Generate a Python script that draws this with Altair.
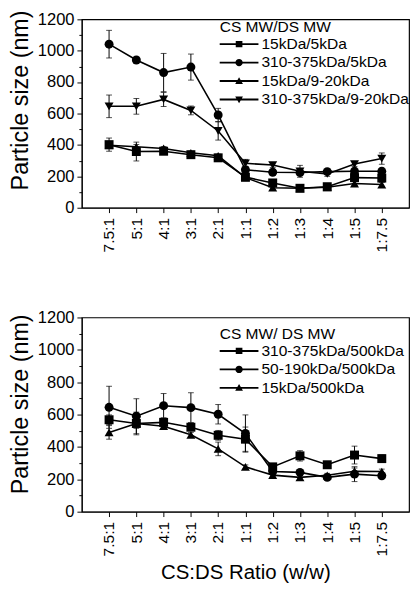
import altair as alt
import pandas as pd

ratios = ["7.5:1", "5:1", "4:1", "3:1", "2:1", "1:1", "1:2", "1:3", "1:4", "1:5", "1:7.5"]

# ---- top panel ----
top_series = ["15kDa/5kDa", "310-375kDa/5kDa", "15kDa/9-20kDa", "310-375kDa/9-20kDa"]
top_sq = [402, 358, 360, 338, 318, 195, 158, 124, 134, 192, 189]
top_sq_err = [42, 60, 15, 12, 10, 15, 20, 10, 10, 25, 25]
top_ci = [1042, 941, 861, 896, 591, 242, 226, 224, 230, 232, 232]
top_ci_err = [88, 10, 122, 83, 42, 20, 15, 15, 15, 20, 20]
top_tu = [398, 388, 378, 350, 331, 192, 128, 124, 130, 154, 148]
top_tu_err = [15, 15, 12, 10, 10, 15, 15, 10, 10, 12, 15]
top_td = [646, 646, 690, 620, 489, 283, 272, 232, 215, 278, 313]
top_td_err = [72, 50, 45, 28, 58, 25, 15, 38, 15, 15, 36]

# ---- bottom panel ----
bot_series = ["310-375kDa/500kDa", "50-190kDa/500kDa", "15kDa/500kDa"]
bot_sq = [568, 545, 552, 522, 472, 448, 277, 345, 290, 350, 328]
bot_sq_err = [30, 70, 25, 20, 30, 75, 20, 32, 12, 55, 22]
bot_ci = [645, 590, 655, 643, 602, 483, 248, 243, 212, 232, 222]
bot_ci_err = [130, 108, 75, 92, 60, 115, 15, 15, 12, 46, 15]
bot_tu = [490, 545, 528, 475, 388, 277, 226, 212, 225, 250, 248]
bot_tu_err = [42, 30, 20, 15, 42, 12, 12, 10, 12, 20, 15]

y_ticks = list(range(0, 1201, 100))

# legend symbols: line with marker (custom paths)
LINE = "M-1,-0.1 H3.2 V0.1 H-1 Z "
P_SQ = LINE + "M0.74,-0.34 H1.46 V0.34 H0.74 Z"
P_CI = LINE + "M0.7,0 A0.4,0.4 0 1,1 1.5,0 A0.4,0.4 0 1,1 0.7,0 Z"
P_TU = LINE + "M1.1,-0.42 L1.52,0.32 L0.68,0.32 Z"
P_TD = LINE + "M1.1,0.42 L0.68,-0.32 L1.52,-0.32 Z"

FONT = "Liberation Sans"


def make_df(series, vals, errs):
    rows = []
    for s, v, e in zip(series, vals, errs):
        for i, (r, vv, ee) in enumerate(zip(ratios, v, e)):
            rows.append({"ratio": r, "idx": i, "series": s, "value": vv,
                         "lo": vv - ee, "hi": vv + ee})
    return pd.DataFrame(rows)


def panel(series, vals, errs, shapes, paths, legend_title, height, xtitle,
          title_y, legend_y):
    df = make_df(series, vals, errs)
    base = alt.Chart(df)
    xaxis = alt.Axis(labelAngle=270, labelFontSize=16, tickSize=5,
                     labelPadding=5, title=xtitle, titleFontSize=21,
                     titleFontWeight="normal", titlePadding=6,
                     domainColor="black", tickColor="black",
                     labelColor="black", titleColor="black")
    x = alt.X("ratio:N", sort=ratios,
              scale=alt.Scale(type="point", padding=1), axis=xaxis)
    yscale = alt.Scale(domain=[0, 1200], nice=False)
    yaxis = alt.Axis(values=y_ticks, format="d",
                     labelExpr="datum.value % 200 == 0 ? datum.label : ''",
                     tickSize={"condition": {"test": "datum.value % 200 == 0", "value": 5}, "value": 3},
                     labelOverlap=False, labelFontSize=17, labelPadding=3,
                     title="Particle size (nm)", titleFontSize=24,
                     titleFontWeight="normal", titlePadding=5,
                     titleY=title_y, grid=False,
                     domainColor="black", tickColor="black",
                     labelColor="black", titleColor="black")
    y = alt.Y("value:Q", scale=yscale, axis=yaxis)
    ylo = alt.Y("lo:Q", scale=yscale, axis=yaxis)
    yhi = alt.Y("hi:Q", scale=yscale, axis=yaxis)
    lines = base.mark_line(color="black", strokeWidth=1.6).encode(
        x=x, y=y, detail="series:N", order="idx:Q")
    rules = base.mark_rule(color="black", strokeWidth=1).encode(
        x=x, y=ylo, y2="hi:Q")
    cap_lo = base.mark_tick(color="black", size=6, thickness=1, orient="horizontal").encode(
        x=x, y=ylo)
    cap_hi = base.mark_tick(color="black", size=6, thickness=1, orient="horizontal").encode(
        x=x, y=yhi)
    pts = base.mark_point(filled=True, size=85, color="black", opacity=1).encode(
        x=x, y=y,
        shape=alt.Shape("series:N", scale=alt.Scale(domain=series, range=shapes), legend=None))
    leg = base.mark_point(filled=True, color="black", opacity=0).encode(
        x=x, y=y,
        shape=alt.Shape("series:N", scale=alt.Scale(domain=series, range=paths),
                        legend=alt.Legend(title=legend_title, orient="none",
                                          legendX=142, legendY=legend_y,
                                          titleFontSize=16, titleFontWeight="normal",
                                          titleColor="black", titlePadding=0,
                                          labelFontSize=16, labelColor="black",
                                          labelLimit=0, labelOffset=24,
                                          symbolSize=361, symbolStrokeWidth=0,
                                          symbolFillColor="black", symbolOpacity=1,
                                          rowPadding=1, padding=0)))
    return alt.layer(lines, rules, cap_lo, cap_hi, pts, leg).resolve_scale(
        shape="independent").properties(width=337, height=height)


top = panel(top_series, [top_sq, top_ci, top_tu, top_td],
            [top_sq_err, top_ci_err, top_tu_err, top_td_err],
            ["square", "circle", "triangle-up", "triangle-down"],
            [P_SQ, P_CI, P_TU, P_TD], "CS MW/DS MW", 194, None, 83, 0)
bottom = panel(bot_series, [bot_sq, bot_ci, bot_tu],
               [bot_sq_err, bot_ci_err, bot_tu_err],
               ["square", "circle", "triangle-up"],
               [P_SQ, P_CI, P_TU], "CS MW/ DS MW", 200, "CS:DS Ratio (w/w)", 89, 9)

chart = alt.vconcat(top, bottom, spacing=56).properties(
    padding={"left": 0, "top": -8, "right": 0, "bottom": 0}
).configure(font=FONT).configure_view(stroke="black", strokeWidth=1.2)

chart.save("out.html", embed_options={"renderer": "svg", "actions": False})
